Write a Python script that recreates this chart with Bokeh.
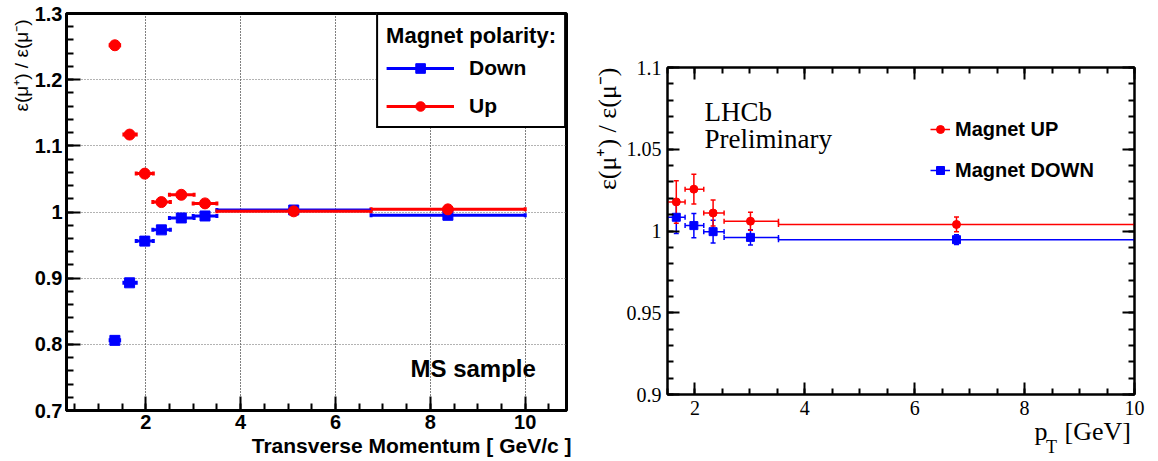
import numpy as np
from bokeh.plotting import figure
from bokeh.models import (FixedTicker, PrintfTickFormatter, Label, Legend, LegendItem,
                          Whisker, TeeHead, ColumnDataSource, LinearAxis, Range1d, Title)
from bokeh.layouts import row
from bokeh.embed import file_html
from bokeh.resources import INLINE

# ---------------- Left panel data (MS sample) ----------------
ms_pt = [1.35, 1.66, 1.98, 2.33, 2.75, 3.25, 5.12, 8.37]
ms_bin_lo = [1.25, 1.54, 1.80, 2.15, 2.50, 3.00, 3.50, 6.75]
ms_bin_hi = [1.45, 1.80, 2.16, 2.52, 3.02, 3.50, 6.75, 10.0]
ms_down = [0.806, 0.893, 0.956, 0.973, 0.991, 0.994, 1.003, 0.995]
ms_down_err = [0.004, 0.004, 0.003, 0.003, 0.003, 0.003, 0.002, 0.002]
ms_up = [1.252, 1.117, 1.058, 1.015, 1.026, 1.013, 1.001, 1.004]
ms_up_err = [0.005, 0.004, 0.004, 0.003, 0.003, 0.003, 0.002, 0.002]

# ---------------- Right panel data (LHCb preliminary) ----------------
lhcb_pt = [1.66, 1.98, 2.33, 3.01, 6.76]
lhcb_bin_lo = [1.50, 1.82, 2.16, 2.53, 3.52]
lhcb_bin_hi = [1.82, 2.16, 2.53, 3.52, 10.0]
lhcb_up = [1.0178, 1.0256, 1.0110, 1.0060, 1.0040]
lhcb_up_err = [0.0130, 0.0091, 0.0080, 0.0055, 0.0045]
lhcb_down = [1.0084, 1.0033, 0.9996, 0.9961, 0.9947]
lhcb_down_err = [0.0100, 0.0074, 0.0070, 0.0046, 0.0030]

left_xticks = [2, 4, 6, 8, 10]
left_yticks = [0.7, 0.8, 0.9, 1.0, 1.1, 1.2, 1.3]
right_xticks = [2, 4, 6, 8, 10]
right_yticks = [0.9, 0.95, 1.0, 1.05, 1.1]

RED = "#ff0000"
BLUE = "#0000ff"
Y_TITLE = "ε(μ⁺) / ε(μ⁻)"


def make_src(x, lo, hi, y, err):
    return ColumnDataSource(dict(
        x=x, x0=lo, x1=hi, y=y,
        ylo=[a - b for a, b in zip(y, err)],
        yhi=[a + b for a, b in zip(y, err)]))


def draw_series(p, src, color, marker, size, lw, head):
    seg = p.segment(x0="x0", y0="y", x1="x1", y1="y", source=src,
                    line_color=color, line_width=lw)
    p.add_layout(Whisker(source=src, base="x", lower="ylo", upper="yhi",
                         dimension="height", line_color=color, line_width=lw,
                         upper_head=TeeHead(size=head, line_color=color, line_width=lw),
                         lower_head=TeeHead(size=head, line_color=color, line_width=lw)))
    p.add_layout(Whisker(source=src, base="y", lower="x0", upper="x1",
                         dimension="width", line_alpha=0,
                         upper_head=TeeHead(size=head, line_color=color, line_width=lw),
                         lower_head=TeeHead(size=head, line_color=color, line_width=lw)))
    sc = p.scatter(x="x", y="y", source=src, marker=marker, size=size,
                   fill_color=color, line_color=color)
    return seg, sc


def style_axis(ax, tick_in, minor_in, lw, font, style, size):
    ax.axis_line_width = lw
    ax.axis_line_color = "black"
    ax.major_tick_in = tick_in
    ax.major_tick_out = 0
    ax.minor_tick_in = minor_in
    ax.minor_tick_out = 0
    ax.major_tick_line_width = 2
    ax.minor_tick_line_width = 2
    ax.major_tick_line_color = "black"
    ax.minor_tick_line_color = "black"
    ax.major_label_text_font = font
    ax.major_label_text_font_style = style
    ax.major_label_text_font_size = size
    ax.major_label_text_color = "black"


# ================= LEFT FIGURE =================
p1 = figure(width=580, height=461, x_range=Range1d(0.33, 10.87), y_range=Range1d(0.7, 1.3),
            output_backend="svg", toolbar_location=None,
            min_border_left=66, min_border_right=14, min_border_top=13, min_border_bottom=51)
p1.outline_line_color = "black"
p1.outline_line_width = 3
p1.background_fill_color = "white"
p1.border_fill_color = "white"

bx1 = p1.below[0]
ly1 = p1.left[0]
bx1.ticker = FixedTicker(ticks=left_xticks, minor_ticks=list(np.arange(0.5, 10.51, 0.5)))
ly1.ticker = FixedTicker(ticks=left_yticks, minor_ticks=list(np.round(np.arange(0.7, 1.301, 0.02), 3)))
for ax in (bx1, ly1):
    ax.formatter = PrintfTickFormatter(format="%g")
    style_axis(ax, 14, 7, 3, "Liberation Sans", "bold", "20px")
bx1.major_label_standoff = 4
ly1.major_label_standoff = 4

p1.xgrid.grid_line_color = "black"
p1.xgrid.grid_line_dash = "1 2"
p1.xgrid.grid_line_width = 1
p1.ygrid.grid_line_color = "#666666"
p1.ygrid.grid_line_dash = "1 2"
p1.ygrid.grid_line_width = 1

src_ms_down = make_src(ms_pt, ms_bin_lo, ms_bin_hi, ms_down, ms_down_err)
src_ms_up = make_src(ms_pt, ms_bin_lo, ms_bin_hi, ms_up, ms_up_err)
seg_d, sc_d = draw_series(p1, src_ms_down, BLUE, "square", 10, 3, 4)
seg_u, sc_u = draw_series(p1, src_ms_up, RED, "circle", 11, 3, 4)

leg1 = Legend(items=[LegendItem(label="Down", renderers=[seg_d, sc_d]),
                     LegendItem(label="Up", renderers=[seg_u, sc_u])],
              location="top_right", title="Magnet polarity:",
              title_text_font="Liberation Sans", title_text_font_style="bold",
              title_text_font_size="22px", title_standoff=7, title_text_color="black",
              label_text_font="Liberation Sans", label_text_font_style="bold",
              label_text_font_size="21px", label_text_color="black",
              glyph_width=68, glyph_height=24,
              label_height=24, spacing=14, padding=8, margin=0, label_standoff=15,
              border_line_color="black", border_line_width=2, border_line_alpha=1,
              background_fill_color="white", background_fill_alpha=1)
p1.add_layout(leg1)

p1.add_layout(Label(x=344, y=42, x_units="screen", y_units="screen", text="MS sample",
                    text_font="Liberation Sans", text_font_style="bold", text_font_size="24px",
                    text_color="black", text_align="left", text_baseline="middle"))
p1.add_layout(Title(text=Y_TITLE, align="right", offset=6, text_font="Liberation Sans",
                    text_font_size="19px", text_font_style="normal", text_color="black",
                    standoff=0), "left")
p1.add_layout(Title(text="Transverse Momentum [ GeV/c ]", align="right", offset=-5,
                    text_font="Liberation Sans", text_font_size="21px",
                    text_font_style="bold", text_color="black", standoff=0), "below")

# ================= RIGHT FIGURE =================
p2 = figure(width=578, height=461, x_range=Range1d(1.5, 10.0), y_range=Range1d(0.9, 1.1),
            output_backend="svg", toolbar_location=None,
            min_border_left=87, min_border_right=24, min_border_top=67, min_border_bottom=67)
p2.outline_line_color = "black"
p2.outline_line_width = 2
p2.xgrid.visible = False
p2.ygrid.visible = False

bx2 = p2.below[0]
ly2 = p2.left[0]
x_minor = list(np.arange(1.5, 10.01, 0.5))
y_minor = list(np.round(np.arange(0.9, 1.1001, 0.01), 3))
top_ax = LinearAxis()
right_ax = LinearAxis()
p2.add_layout(top_ax, "above")
p2.add_layout(right_ax, "right")
for ax, ticks, minor in ((bx2, right_xticks, x_minor), (top_ax, right_xticks, x_minor),
                         (ly2, right_yticks, y_minor), (right_ax, right_yticks, y_minor)):
    ax.ticker = FixedTicker(ticks=ticks, minor_ticks=minor)
    ax.formatter = PrintfTickFormatter(format="%g")
    style_axis(ax, 12, 6, 2, "Liberation Serif", "normal", "20px")
top_ax.formatter = PrintfTickFormatter(format="")
right_ax.formatter = PrintfTickFormatter(format="")
bx2.major_label_standoff = 6
ly2.major_label_standoff = 6

src_l_down = make_src(lhcb_pt, lhcb_bin_lo, lhcb_bin_hi, lhcb_down, lhcb_down_err)
src_l_up = make_src(lhcb_pt, lhcb_bin_lo, lhcb_bin_hi, lhcb_up, lhcb_up_err)
seg_ld, sc_ld = draw_series(p2, src_l_down, BLUE, "square", 8, 1.5, 5)
seg_lu, sc_lu = draw_series(p2, src_l_up, RED, "circle", 8, 1.5, 5)

leg2 = Legend(items=[LegendItem(label="Magnet UP", renderers=[seg_lu, sc_lu]),
                     LegendItem(label="Magnet DOWN", renderers=[seg_ld, sc_ld])],
              location=(263, 212),
              label_text_font="Liberation Sans", label_text_font_style="bold",
              label_text_font_size="20px", label_text_color="black",
              glyph_width=20, glyph_height=24,
              label_height=24, spacing=17, padding=0, margin=0, label_standoff=5,
              border_line_alpha=0, background_fill_alpha=0)
p2.add_layout(leg2)

for txt, yy in (("LHCb", 283), ("Preliminary", 256)):
    p2.add_layout(Label(x=37, y=yy, x_units="screen", y_units="screen", text=txt,
                        text_font="Liberation Serif", text_font_size="27px",
                        text_color="black", text_align="left", text_baseline="middle"))
p2.add_layout(Title(text=Y_TITLE, align="right", text_font="Liberation Serif",
                    text_font_size="26px", text_font_style="normal", text_color="black",
                    standoff=4), "left")

# x-axis title "p_T [GeV]" built from label-only axes (text placed at data x positions)
xt_pos_p = [8.30, 9.33]
xt_pos_T = [8.49]
lab_ax1 = LinearAxis(ticker=FixedTicker(ticks=xt_pos_p, minor_ticks=[]),
                     major_label_overrides={8.30: "p", 9.33: "[GeV]"})
lab_ax2 = LinearAxis(ticker=FixedTicker(ticks=xt_pos_T, minor_ticks=[]),
                     major_label_overrides={8.49: "T"})
for ax, sz, so in ((lab_ax1, "26px", -1), (lab_ax2, "18px", -12)):
    ax.axis_line_color = None
    ax.major_tick_line_color = None
    ax.minor_tick_line_color = None
    ax.major_tick_in = 0
    ax.major_tick_out = 0
    ax.minor_tick_in = 0
    ax.minor_tick_out = 0
    ax.major_label_text_font = "Liberation Serif"
    ax.major_label_text_font_size = sz
    ax.major_label_text_color = "black"
    ax.major_label_standoff = so
    p2.add_layout(ax, "below")

for p in (p1, p2):
    try:
        p.frame_align = False
    except Exception:
        pass

layout = row(p1, p2)
open("out.html", "w").write(file_html(layout, INLINE))
